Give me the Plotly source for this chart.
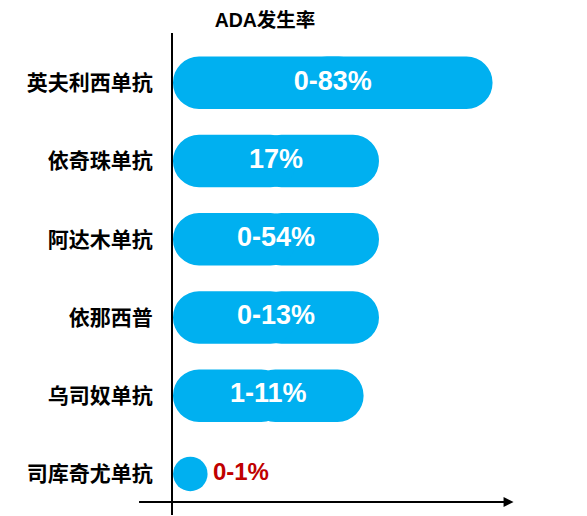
import plotly.graph_objects as go

# data
drugs = ['英夫利西单抗', '依奇珠单抗', '阿达木单抗', '依那西普', '乌司奴单抗', '司库奇尤单抗']
bar_len = [83, 53.5, 53.5, 53.5, 49.5, 9]
rate_labels = ['0-83%', '17%', '0-54%', '0-13%', '1-11%', '0-1%']

BLUE = '#00B0F0'
LATIN = "Arial, 'Liberation Sans', 'Noto Sans CJK SC', sans-serif"
CJK = "'Noto Sans CJK SC', sans-serif"

# long values are drawn as pills, the tiny one as a dot
pill_y = [d for d, v in zip(drugs, bar_len) if v > 20]
pill_v = [v for v in bar_len if v > 20]
pill_txt = [t for t, v in zip(rate_labels, bar_len) if v > 20]
dot_y = [d for d, v in zip(drugs, bar_len) if v <= 20]
dot_v = [v for v in bar_len if v <= 20]
dot_txt = [t for t, v in zip(rate_labels, bar_len) if v <= 20]

fig = go.Figure()

# each pill = two overlapping half bars, one rounded at each end
fig.add_trace(go.Bar(
    y=pill_y,
    x=[v * 0.6 for v in pill_v],
    base=[v * 0.4 for v in pill_v],
    orientation='h',
    width=0.67,
    marker=dict(color=BLUE, line=dict(width=0)),
    hoverinfo='skip',
))
fig.add_trace(go.Bar(
    y=pill_y,
    x=[-v * 0.6 for v in pill_v],
    base=[v * 0.6 for v in pill_v],
    orientation='h',
    width=0.67,
    marker=dict(color=BLUE, line=dict(width=0)),
    hoverinfo='skip',
))

# labels inside the pills
fig.add_trace(go.Scatter(
    y=pill_y,
    x=[v / 2 for v in pill_v],
    mode='text',
    text=pill_txt,
    textposition='middle center',
    textfont=dict(family=LATIN, weight='bold', size=27, color='white'),
    cliponaxis=False,
    hoverinfo='skip',
))

# the small value: a round dot with its label on the right
fig.add_trace(go.Scatter(
    y=dot_y,
    x=[v / 2 for v in dot_v],
    mode='markers+text',
    marker=dict(color=BLUE, size=34.5, line=dict(width=0)),
    text=dot_txt,
    textposition='middle right',
    textfont=dict(family=LATIN, weight='bold', size=24, color='#C00000'),
    cliponaxis=False,
    hoverinfo='skip',
))

# horizontal axis with arrow
fig.add_annotation(
    xref='paper', yref='paper',
    x=(514 - 173) / 385.5, y=0.027,
    axref='pixel', ayref='pixel',
    ax=-376, ay=0,
    showarrow=True,
    arrowhead=2,
    arrowsize=1,
    arrowwidth=2,
    arrowcolor='black',
    text='',
)

# the page body keeps its default 8px margin, so the figure is sized to
# fill the rest of the 587x516 window
fig.update_layout(
    title=dict(
        text='ADA发生率',
        xref='container', yref='container',
        x=(265 - 8) / 579, y=1 - (20 - 8) / 508,
        xanchor='center', yanchor='middle',
        font=dict(family=LATIN, size=19.5, color='black', weight='bold'),
    ),
    barmode='overlay',
    barcornerradius='50%',
    showlegend=False,
    width=579,
    height=508,
    margin=dict(l=165, r=28.5, t=25, b=1),
    paper_bgcolor='white',
    plot_bgcolor='white',
    xaxis=dict(range=[0, 100], visible=False, fixedrange=True),
    yaxis=dict(
        type='category',
        categoryorder='array',
        categoryarray=drugs,
        range=[5.525, -0.636],
        showline=True,
        linecolor='black',
        linewidth=2,
        showgrid=False,
        zeroline=False,
        ticks='',
        ticklabelstandoff=14,
        tickfont=dict(family=CJK, size=21, color='black', weight='bold'),
    ),
)

fig.write_html("out.html")
